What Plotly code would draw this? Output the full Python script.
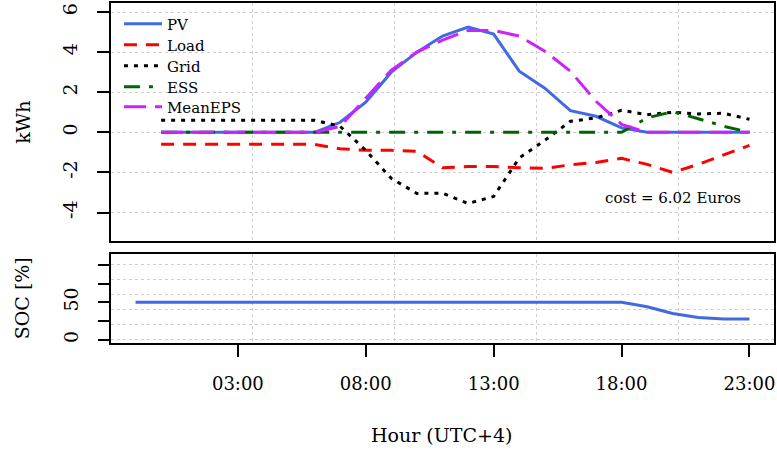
import plotly.graph_objects as go

# ---- data ----
hours = list(range(0, 24))
pv = [0, 0, 0, 0, 0, 0, 0, 0.5, 1.5, 3.0, 4.0, 4.8, 5.25, 4.9, 3.05, 2.2, 1.08, 0.8, 0.22, 0, 0, 0, 0, 0]
load = [-0.6, -0.6, -0.6, -0.6, -0.6, -0.6, -0.6, -0.82, -0.9, -0.9, -0.95, -1.77, -1.7, -1.7, -1.77, -1.8,
        -1.62, -1.5, -1.3, -1.6, -2.0, -1.6, -1.12, -0.65]
grid = [0.6, 0.6, 0.6, 0.6, 0.6, 0.6, 0.6, 0.3, -0.9, -2.3, -3.05, -3.03, -3.55, -3.2, -1.28, -0.4,
        0.55, 0.72, 1.1, 0.88, 1.0, 0.92, 0.95, 0.65]
ess = [0, 0, 0, 0, 0, 0, 0, 0, 0, 0, 0, 0, 0, 0, 0, 0, 0, 0, 0, 0.72, 1.03, 0.68, 0.3, 0]
mean_eps = [0, 0, 0, 0, 0, 0, 0, 0.3, 1.7, 3.1, 4.0, 4.6, 5.08, 5.08, 4.8, 4.05, 3.05, 1.55, 0.4, 0, 0, 0, 0, 0]

soc_hours = list(range(-1, 24))
soc = [50] * 20 + [44, 35, 29.5, 27.5, 27.5]

x_tick_vals = [3, 8, 13, 18, 23]
x_tick_text = ["03:00", "08:00", "13:00", "18:00", "23:00"]
x_grid_vals = [3.59, 9.14, 14.69, 20.24]
y_top_ticks = [-4, -2, 0, 2, 4, 6]
y_top_text = ["-4", "-2", "0", "2", "4", "6"]
soc_tick_vals = [0, 25, 50, 75, 100]
soc_tick_text = ["0", "", "50", "", ""]
soc_grid_vals = [0, 20, 40, 60, 80, 100]
cost_text = "cost = 6.02 Euros"

FONT = "DejaVu Serif"
GRIDC = "#cfcfcf"
XR = [-1.96, 23.96]

fig = go.Figure()
series = [
    ("PV", pv, "#4169E1", "solid"),
    ("Load", load, "#FF0000", "13px,9px"),
    ("Grid", grid, "#000000", "4px,6px"),
    ("ESS", ess, "#006400", "16px,9px,4px,9px"),
    ("MeanEPS", mean_eps, "#CC22FF", "22px,9px"),
]
legend_names = ["legend", "legend2", "legend3", "legend4", "legend5"]
legend_rows_px = [24, 45, 66, 87, 107]
for (name, vals, col, dash), lg in zip(series, legend_names):
    fig.add_trace(go.Scatter(x=hours, y=vals, mode="lines", name=name, legend=lg,
                             line=dict(color=col, width=3, dash=dash),
                             xaxis="x", yaxis="y"))

fig.add_trace(go.Scatter(x=[], y=[], xaxis="x2", yaxis="y2", showlegend=False))
fig.add_trace(go.Scatter(x=soc_hours, y=soc, mode="lines", showlegend=False,
                         line=dict(color="#4169E1", width=3), xaxis="x3", yaxis="y3"))

box = dict(showline=True, mirror=True, linecolor="black", linewidth=2, zeroline=False,
           automargin=False)
gridstyle = dict(showgrid=True, gridcolor=GRIDC, griddash="dot", gridwidth=1)

H_PLOT = 452 - 3 - 109
legends = {}
for lg, py in zip(legend_names, legend_rows_px):
    legends[lg] = dict(x=0.012, y=(343 - py) / H_PLOT, xanchor="left", yanchor="middle",
                       bgcolor="rgba(0,0,0,0)", font=dict(size=15), itemwidth=38)

fig.update_layout(
    width=777, height=452,
    margin=dict(l=111, r=3, t=3, b=109, autoexpand=False),
    paper_bgcolor="white", plot_bgcolor="white",
    font=dict(family=FONT, size=19, color="black"),
    showlegend=True,
    xaxis=dict(domain=[0, 1], anchor="y", range=XR, tickvals=x_grid_vals,
               showticklabels=False, ticks="", **gridstyle, **box),
    yaxis=dict(domain=[0.3, 1], anchor="x", range=[-5.42, 6.45], tickvals=y_top_ticks,
               ticktext=y_top_text,
               ticks="outside", ticklen=12, tickwidth=1.5, tickcolor="black",
               tickangle=-90, ticklabelstandoff=12, **gridstyle, **box),
    xaxis2=dict(domain=[0, 1], anchor="y2", range=XR, tickvals=x_grid_vals,
                showticklabels=False, ticks="", **gridstyle, **box),
    yaxis2=dict(domain=[0, 0.2618], anchor="x2", range=[-4.4, 114.4], tickvals=soc_grid_vals,
                showticklabels=False, ticks="", **gridstyle, **box),
    xaxis3=dict(overlaying="x2", anchor="y3", side="bottom", range=XR,
                tickvals=x_tick_vals, ticktext=x_tick_text, ticks="outside",
                ticklen=13, tickwidth=1.5, tickcolor="black", ticklabelstandoff=11,
                tickfont=dict(size=18), automargin=False,
                showgrid=False, zeroline=False, showline=False),
    yaxis3=dict(overlaying="y2", anchor="x3", side="left", range=[-4.4, 114.4],
                tickvals=soc_tick_vals, ticktext=soc_tick_text, ticks="outside",
                ticklen=12, tickwidth=1.5, tickcolor="black", tickangle=-90,
                ticklabelstandoff=12, automargin=False,
                showgrid=False, zeroline=False, showline=False),
    annotations=[
        dict(text=cost_text, x=20.0, y=-3.3, xref="x", yref="y", showarrow=False,
             font=dict(size=15), xanchor="center", yanchor="middle"),
        dict(text="kWh", x=-0.133, y=0.65, xref="paper", yref="paper", showarrow=False,
             textangle=-90, xanchor="center", yanchor="middle"),
        dict(text="SOC [%]", x=-0.133, y=0.131, xref="paper", yref="paper", showarrow=False,
             textangle=-90, xanchor="center", yanchor="middle"),
        dict(text="Hour (UTC+4)", x=0.499, y=-0.27, xref="paper", yref="paper", showarrow=False,
             xanchor="center", yanchor="middle"),
    ],
)
fig.update_layout(**legends)

fig.write_html("out.html", config={"displayModeBar": False},
               post_script="document.body.style.margin='0';")
